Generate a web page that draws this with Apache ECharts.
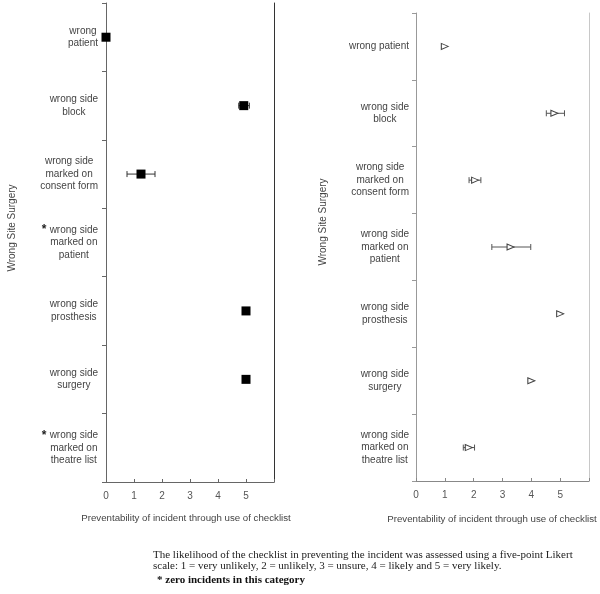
<!DOCTYPE html>
<html>
<head>
<meta charset="utf-8">
<script src="https://cdn.jsdelivr.net/npm/echarts@6/dist/echarts.min.js"></script>
<style>html,body{margin:0;padding:0;background:#fff}#c{width:600px;height:594px}</style>
</head>
<body>
<div id="c"></div>
<script>
// ---- data ----
const categories = ['wrong patient', 'wrong side block', 'wrong side marked on consent form',
  'wrong side marked on patient', 'wrong side prosthesis', 'wrong side surgery', 'wrong side marked on theatre list'];
const leftLabels = ['wrong\npatient', 'wrong side\nblock', 'wrong side\nmarked on\nconsent form',
  'wrong side\nmarked on\npatient', 'wrong side\nprosthesis', 'wrong side\nsurgery', 'wrong side\nmarked on\ntheatre list'];
const rightLabels = ['wrong patient', 'wrong side\nblock', 'wrong side\nmarked on\nconsent form',
  'wrong side\nmarked on\npatient', 'wrong side\nprosthesis', 'wrong side\nsurgery', 'wrong side\nmarked on\ntheatre list'];
const zeroIncidents = [false, false, false, true, false, false, true];
const leftMean = [0, 4.92, 1.25, null, 5, 5, null];
const leftLow  = [null, 4.74, 0.75, null, null, null, null];
const leftHigh = [null, 5.12, 1.75, null, null, null, null];
const rightMean = [1, 4.8, 2.05, 3.28, 5, 4, 1.83];
const rightLow  = [null, 4.52, 1.84, 2.63, null, null, 1.64];
const rightHigh = [null, 5.15, 2.25, 3.98, null, null, 2.03];
const xTicks = ['0', '1', '2', '3', '4', '5', ''];
const axisTitleX = 'Preventability of incident through use of checklist';
const axisTitleY = 'Wrong Site Surgery';
const note1 = 'The likelihood of the checklist in preventing the incident was assessed using a five-point Likert';
const note2 = 'scale: 1 = very unlikely, 2 = unlikely, 3 = unsure, 4 = likely and 5 = very likely.';
const note3 = '* zero incidents in this category';

// ---- helpers ----
const FONT = 'Liberation Sans, Arial, sans-serif';
const SERIF = 'Liberation Serif, Times New Roman, serif';
function pts(mean) {
  return mean.map((v, i) => v == null ? null : [v, i]).filter(d => d);
}
function bars(lo, hi) {
  return lo.map((v, i) => v == null ? null : [v, hi[i], i]).filter(d => d);
}
function labelFormatter(labels, starred) {
  return function (value, idx) {
    const lines = labels[idx].split('\n');
    return lines.map((ln, k) => {
      const s = starred && starred[idx] ? '{s|' + (k === 0 ? '*' : ' ') + '}' : '';
      return s + '{c|' + ln + '}';
    }).join('\n');
  };
}
const rich = {
  s: { width: 8, align: 'left', fontSize: 12, fontWeight: 'bold', lineHeight: 12.5, color: '#222', fontFamily: FONT },
  c: { align: 'center', fontSize: 10, lineHeight: 12.5, color: '#444', fontFamily: FONT }
};
function errRender(capColor) {
  return function (params, api) {
    const y = api.value(2);
    const a = api.coord([api.value(0), y]);
    const b = api.coord([api.value(1), y]);
    const h = 3;
    const st = { stroke: capColor, lineWidth: 1 };
    return {
      type: 'group',
      children: [
        { type: 'line', shape: { x1: a[0], y1: a[1], x2: b[0], y2: b[1] }, style: st },
        { type: 'line', shape: { x1: a[0], y1: a[1] - h, x2: a[0], y2: a[1] + h }, style: st },
        { type: 'line', shape: { x1: b[0], y1: b[1] - h, x2: b[0], y2: b[1] + h }, style: st }
      ]
    };
  };
}
function xAxis(grid, lineColor) {
  return {
    gridIndex: grid, type: 'value', min: 0, max: 6, interval: 1,
    axisLine: { show: true, onZero: false, lineStyle: { color: lineColor, width: 1 } },
    axisTick: { show: true, inside: true, length: 3, lineStyle: { color: lineColor } },
    axisLabel: { formatter: (v) => xTicks[Math.round(v)], fontSize: 10, color: '#555', fontFamily: FONT, margin: 9 },
    splitLine: { show: false }
  };
}
function yAxis(grid, labels, starred, lineColor, margin) {
  return {
    gridIndex: grid, type: 'category', data: categories, inverse: true, boundaryGap: true,
    axisLine: { show: true, onZero: false, lineStyle: { color: lineColor, width: 1 } },
    axisTick: { show: true, inside: false, length: 4, lineStyle: { color: lineColor } },
    axisLabel: { formatter: labelFormatter(labels, starred), rich: rich, margin: margin, interval: 0 },
    splitLine: { show: false }
  };
}
function borderAxis(grid, color) {
  return {
    gridIndex: grid, type: 'value', position: 'right', min: 0, max: 1,
    axisLine: { show: true, onZero: false, lineStyle: { color: color, width: 1 } },
    axisTick: { show: false }, axisLabel: { show: false }, splitLine: { show: false }
  };
}

const chart = echarts.init(document.getElementById('c'), null, { renderer: 'canvas' });
chart.setOption({
  animation: false,
  backgroundColor: '#fff',
  grid: [
    { left: 106, right: 326, top: 3, bottom: 112 },
    { left: 416, right: 11, top: 13, bottom: 113 }
  ],
  xAxis: [xAxis(0, '#666'), xAxis(1, '#888')],
  yAxis: [
    yAxis(0, leftLabels, zeroIncidents, '#666', 8),
    yAxis(1, rightLabels, null, '#999', 7),
    borderAxis(0, '#333'),
    borderAxis(1, '#c8c8c8')
  ],
  series: [
    { type: 'custom', xAxisIndex: 0, yAxisIndex: 0, data: bars(leftLow, leftHigh),
      encode: { x: [0, 1], y: 2 }, renderItem: errRender('#333'), clip: false, z: 2 },
    { type: 'scatter', xAxisIndex: 0, yAxisIndex: 0, data: pts(leftMean), symbol: 'rect', symbolSize: 9,
      itemStyle: { color: '#000', opacity: 1 }, clip: false, z: 3 },
    { type: 'custom', xAxisIndex: 1, yAxisIndex: 1, data: bars(rightLow, rightHigh),
      encode: { x: [0, 1], y: 2 }, renderItem: errRender('#555'), clip: false, z: 2 },
    { type: 'scatter', xAxisIndex: 1, yAxisIndex: 1, data: pts(rightMean), symbol: 'triangle',
      symbolRotate: -90, symbolSize: [6, 7],
      itemStyle: { color: '#fff', borderColor: '#444', borderWidth: 1, opacity: 1 }, clip: false, z: 3 }
  ],
  graphic: [
    { type: 'text', x: 12, y: 228, rotation: Math.PI / 2,
      style: { text: axisTitleY, font: '10px ' + FONT, fill: '#444', align: 'center', verticalAlign: 'middle' } },
    { type: 'text', x: 323, y: 222, rotation: Math.PI / 2,
      style: { text: axisTitleY, font: '10px ' + FONT, fill: '#444', align: 'center', verticalAlign: 'middle' } },
    { type: 'text', x: 186, y: 518,
      style: { text: axisTitleX, font: '9.7px ' + FONT, fill: '#444', align: 'center', verticalAlign: 'middle' } },
    { type: 'text', x: 492, y: 519,
      style: { text: axisTitleX, font: '9.7px ' + FONT, fill: '#444', align: 'center', verticalAlign: 'middle' } },
    { type: 'text', x: 153, y: 555,
      style: { text: note1, font: '11px ' + SERIF, fill: '#222', align: 'left', verticalAlign: 'middle' } },
    { type: 'text', x: 153, y: 566,
      style: { text: note2, font: '11px ' + SERIF, fill: '#222', align: 'left', verticalAlign: 'middle' } },
    { type: 'text', x: 157, y: 580,
      style: { text: note3, font: 'bold 11px ' + SERIF, fill: '#111', align: 'left', verticalAlign: 'middle' } }
  ]
});
</script>
</body>
</html>
